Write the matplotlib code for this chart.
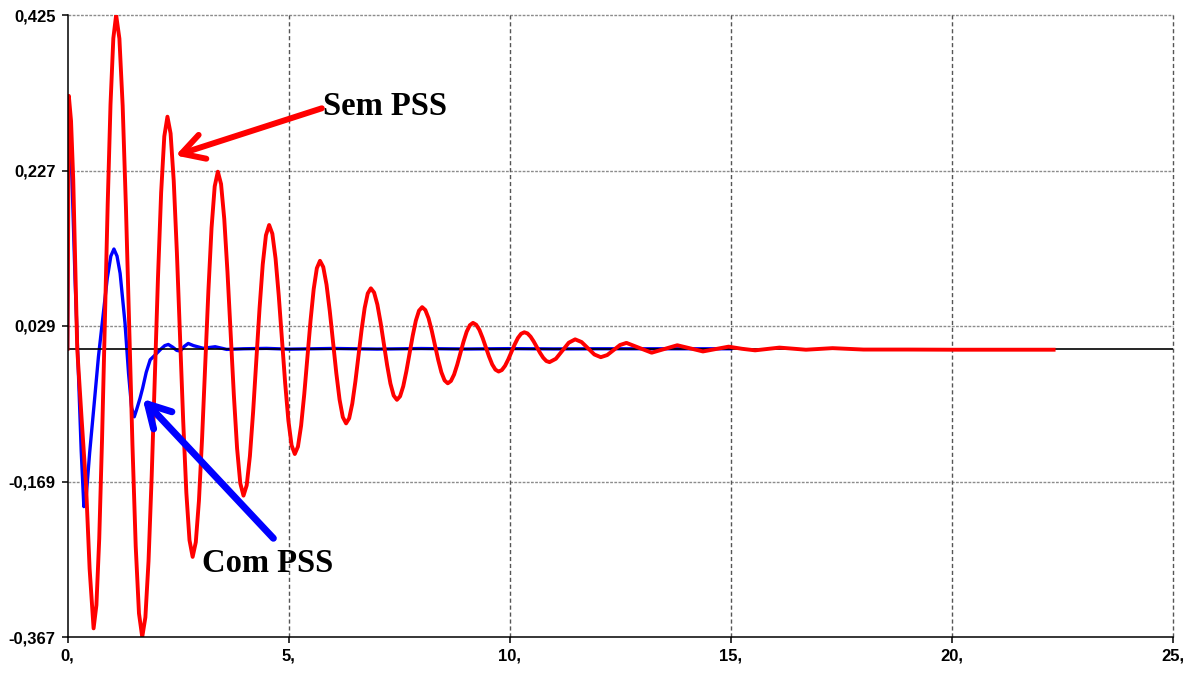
import matplotlib
matplotlib.use("Agg")
import matplotlib.pyplot as plt

# Rotor speed deviation after a disturbance, without PSS ("Sem PSS")
t_sem = [0.0, 0.03, 0.08, 0.13, 0.22, 0.32, 0.42, 0.50, 0.59,
         0.6538, 0.7175, 0.7813, 0.845, 0.9088, 0.9725, 1.0363, 1.10,
         1.1738, 1.2475, 1.3213, 1.395, 1.4688, 1.5425, 1.6163, 1.69,
         1.7613, 1.8325, 1.9038, 1.975, 2.0463, 2.1175, 2.1888, 2.26,
         2.3313, 2.4025, 2.4738, 2.545, 2.6163, 2.6875, 2.7588, 2.83,
         2.9013, 2.9725, 3.0438, 3.115, 3.1863, 3.2575, 3.3288, 3.40,
         3.4725, 3.545, 3.6175, 3.69, 3.7625, 3.835, 3.9075, 3.98,
         4.0525, 4.125, 4.1975, 4.27, 4.3425, 4.415, 4.4875, 4.56,
         4.6325, 4.705, 4.7775, 4.85, 4.9225, 4.995, 5.0675, 5.14,
         5.2113, 5.2825, 5.3538, 5.425, 5.4963, 5.5675, 5.6388, 5.71,
         5.7838, 5.8575, 5.9313, 6.005, 6.0788, 6.1525, 6.2263, 6.30,
         6.37, 6.44, 6.51, 6.58, 6.65, 6.72, 6.79, 6.86,
         6.9338, 7.0075, 7.0813, 7.155, 7.2288, 7.3025, 7.3763, 7.45,
         7.5213, 7.5925, 7.6638, 7.735, 7.8063, 7.8775, 7.9488, 8.02,
         8.0925, 8.165, 8.2375, 8.31, 8.3825, 8.455, 8.5275, 8.60,
         8.6713, 8.7425, 8.8138, 8.885, 8.9563, 9.0275, 9.0988, 9.17,
         9.2425, 9.315, 9.3875, 9.46, 9.5325, 9.605, 9.6775, 9.75,
         9.8225, 9.895, 9.9675, 10.04, 10.1125, 10.185, 10.2575, 10.33,
         10.4013, 10.4725, 10.5438, 10.615, 10.6863, 10.7575, 10.8288, 10.90,
         11.045, 11.19, 11.335, 11.48,
         11.625, 11.77, 11.915, 12.06,
         12.205, 12.35, 12.495, 12.64,
         12.925, 13.21, 13.50, 13.79, 14.08, 14.37, 14.66, 14.95,
         15.25, 15.55, 16.1, 16.7, 17.3, 18.0, 19.0, 20.0, 21.0, 22.3]
v_sem = [0.0, 0.322, 0.29, 0.215, 0.0, -0.09, -0.175, -0.28, -0.356,
         -0.3263, -0.242, -0.1147, 0.0345, 0.1837, 0.311, 0.3953, 0.425,
         0.3949, 0.3094, 0.1803, 0.029, -0.1223, -0.2514, -0.3369, -0.367,
         -0.3419, -0.2703, -0.1623, -0.0358, 0.0908, 0.1988, 0.2704, 0.2955,
         0.2742, 0.2137, 0.1223, 0.0153, -0.0918, -0.1832, -0.2437, -0.265,
         -0.2463, -0.1934, -0.1134, -0.0198, 0.0739, 0.1539, 0.2068, 0.2255,
         0.2098, 0.1653, 0.098, 0.0193, -0.0595, -0.1268, -0.1713, -0.187,
         -0.1739, -0.1367, -0.0805, -0.0147, 0.0511, 0.1073, 0.1445, 0.1576,
         0.1465, 0.115, 0.0675, 0.0118, -0.0439, -0.0914, -0.1229, -0.134,
         -0.1246, -0.098, -0.058, -0.011, 0.036, 0.076, 0.1026, 0.112,
         0.1041, 0.0817, 0.048, 0.0085, -0.031, -0.0647, -0.0871, -0.095,
         -0.0885, -0.0699, -0.0418, -0.009, 0.0238, 0.0519, 0.0705, 0.077,
         0.0716, 0.0563, 0.0331, 0.006, -0.0211, -0.0443, -0.0596, -0.065,
         -0.0605, -0.0478, -0.0285, -0.006, 0.0165, 0.0358, 0.0485, 0.053,
         0.0493, 0.0389, 0.023, 0.0045, -0.014, -0.0299, -0.0403, -0.044,
         -0.041, -0.0328, -0.0202, -0.0055, 0.0092, 0.0218, 0.03, 0.033,
         0.0306, 0.024, 0.0138, 0.002, -0.0098, -0.02, -0.0266, -0.029,
         -0.0271, -0.0217, -0.0135, -0.004, 0.0055, 0.0137, 0.0191, 0.021,
         0.0196, 0.0154, 0.0092, 0.002, -0.0052, -0.0114, -0.0156, -0.017,
         -0.0127, -0.0025, 0.0077, 0.012,
         0.0086, 0.0007, -0.0073, -0.0107,
         -0.008, -0.0016, 0.0048, 0.0075,
         0.0012, -0.005, -0.0003, 0.0045, 0.0005, -0.0034, -0.0003, 0.0027,
         0.0, -0.002, 0.0015, -0.0012, 0.0008, -0.001, -0.001, -0.0012, -0.0012, -0.0012]

# Same disturbance with the stabilizer in service ("Com PSS")
t_com = [0.0, 0.03, 0.06, 0.10, 0.17, 0.24, 0.31, 0.37,
         0.42, 0.50, 0.60, 0.70, 0.80, 0.90, 0.98, 1.05,
         1.12, 1.19, 1.30, 1.38, 1.45, 1.51,
         1.56, 1.64, 1.70, 1.78, 1.87, 1.98, 2.10, 2.20, 2.28,
         2.38, 2.47, 2.55, 2.64, 2.73, 2.85, 3.07, 3.34, 3.60, 3.98,
         4.5, 5.0, 6.0, 7.0, 8.0, 9.0, 10.0, 11.0, 12.0, 13.0, 14.0, 15.0]
v_com = [0.0, 0.32, 0.28, 0.22, 0.09, -0.02, -0.13, -0.201,
         -0.19, -0.133, -0.072, -0.01, 0.04, 0.09, 0.118, 0.127,
         0.118, 0.096, 0.033, -0.031, -0.075, -0.0866,
         -0.078, -0.063, -0.05, -0.03, -0.014, -0.008, -0.001, 0.004, 0.0055,
         0.002, -0.002, -0.003, 0.003, 0.0068, 0.004, 0.0006, 0.0026, -0.0008, 0.0,
         0.0005, -0.0005, 0.0004, -0.0004, 0.0003, -0.0003, 0.0002, -0.0002, 0.0, 0.0, 0.0, 0.0]

x_ticks = [0, 5, 10, 15, 20, 25]
x_labels = ["0,", "5,", "10,", "15,", "20,", "25,"]
y_ticks = [-0.367, -0.169, 0.029, 0.227, 0.425]
y_labels = ["-0,367", "-0,169", "0,029", "0,227", "0,425"]

fig = plt.figure(figsize=(11.97, 6.73), dpi=100)
ax = fig.add_axes([67.5 / 1197, 1 - 637 / 673, (1173 - 67.5) / 1197, (637 - 15) / 673])

ax.set_xlim(0, 25)
ax.set_ylim(-0.367, 0.425)

# grid
for yv in y_ticks[1:]:
    ax.axhline(yv, color="#8c8c8c", lw=1.0, ls=(0, (2, 1)), zorder=1, clip_on=False)
for xv in x_ticks[1:]:
    ax.axvline(xv, color="#555555", lw=1.0, ls=(0, (3, 2)), zorder=1, clip_on=False)

ax.plot(t_com, v_com, color="#0000ff", lw=2.4, zorder=2, solid_joinstyle="round")
ax.axhline(0.0, color="black", lw=1.2, zorder=3)
ax.plot(t_sem, v_sem, color="#ff0000", lw=2.8, zorder=4, solid_joinstyle="round")

for spine in ("top", "right"):
    ax.spines[spine].set_visible(False)
for spine in ("left", "bottom"):
    ax.spines[spine].set_linewidth(1.1)
    ax.spines[spine].set_zorder(5)

ax.set_xticks(x_ticks)
ax.set_xticklabels(x_labels)
ax.set_yticks(y_ticks)
ax.set_yticklabels(y_labels)
ax.tick_params(axis="both", direction="out", length=4.5, width=1.1, pad=4,
               labelsize=12)
for lab in ax.get_xticklabels() + ax.get_yticklabels():
    lab.set_fontfamily("Liberation Sans")
    lab.set_fontweight("bold")

arrow_kw = dict(arrowstyle="->,head_length=0.8,head_width=0.45",
                mutation_scale=20, shrinkA=0, shrinkB=0)
ax.annotate("", xy=(2.443, 0.2461), xytext=(5.751, 0.3062),
            arrowprops=dict(color="#ff0000", lw=4.3, **arrow_kw), zorder=6)
ax.annotate("", xy=(1.701, -0.0639), xytext=(4.656, -0.2413),
            arrowprops=dict(color="#0000ff", lw=5.0, **arrow_kw), zorder=6)

ax.text(5.77, 0.2977, "Sem PSS", family="Liberation Serif", weight="bold",
        fontsize=23.5, ha="left", va="baseline", zorder=7)
ax.text(3.04, -0.2842, "Com PSS", family="Liberation Serif", weight="bold",
        fontsize=23.5, ha="left", va="baseline", zorder=7)

fig.savefig("out.png", dpi=100)
